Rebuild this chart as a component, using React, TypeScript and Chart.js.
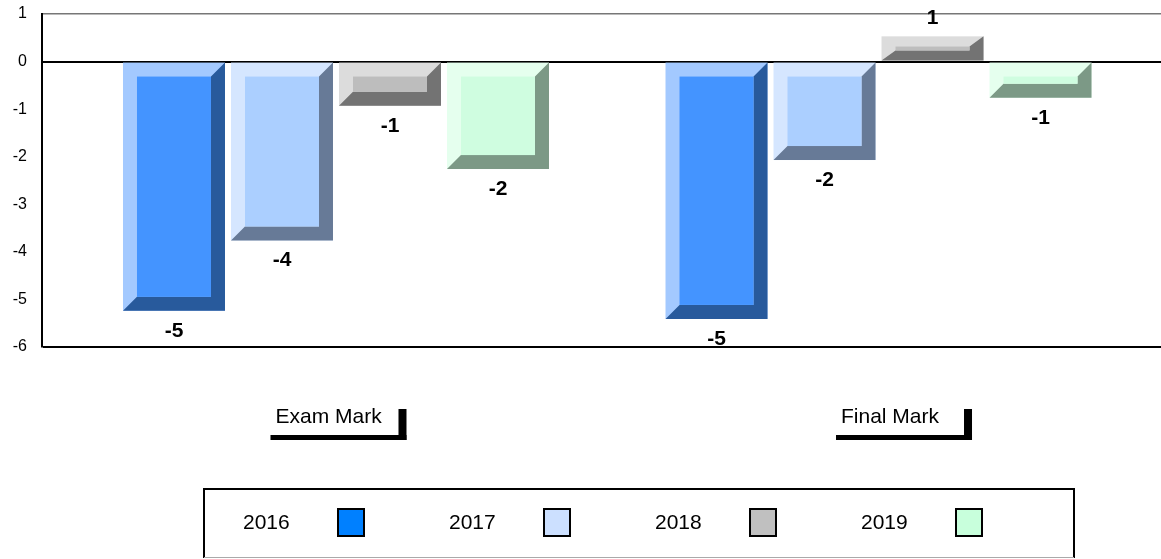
import React, { useEffect, useRef } from 'react';
import { Chart, registerables } from 'chart.js';

Chart.register(...registerables);

// ---- data ----
const categories = ['Exam Mark', 'Final Mark'];
const years = ['2016', '2017', '2018', '2019'];
const values2016 = [-5.24, -5.41];
const values2017 = [-3.76, -2.07];
const values2018 = [-0.93, 0.53];
const values2019 = [-2.26, -0.76];
const yTicks = [1, 0, -1, -2, -3, -4, -5, -6];

// ---- styles ----
const faceColors = ['#4494FF', '#ABCFFF', '#BDBDBD', '#CFFDE0'];
const lightColors = ['#A3C9FF', '#D5E6FF', '#DCDCDC', '#E5FFEE'];
const darkColors = ['#285A9C', '#677A97', '#737373', '#7C9986'];
const legendColors = ['#0080FF', '#CCE0FF', '#C0C0C0', '#C8FFDC'];
const FONT = '"Liberation Sans", Arial, sans-serif';

const series = [values2016, values2017, values2018, values2019];

function poly(ctx: CanvasRenderingContext2D, pts: number[][], color: string) {
  ctx.beginPath();
  ctx.moveTo(pts[0][0], pts[0][1]);
  for (let i = 1; i < pts.length; i++) ctx.lineTo(pts[i][0], pts[i][1]);
  ctx.closePath();
  ctx.fillStyle = color;
  ctx.fill();
}

const bevelPlugin = {
  id: 'bevelBars',
  afterDatasetsDraw(chart: any) {
    const ctx: CanvasRenderingContext2D = chart.ctx;
    ctx.save();
    chart.data.datasets.forEach((ds: any, di: number) => {
      const meta = chart.getDatasetMeta(di);
      meta.data.forEach((el: any, i: number) => {
        const p = el.getProps(['x', 'y', 'base', 'width'], true);
        const half = p.width / 2 - 3;
        const L = p.x - half;
        const R = p.x + half;
        const T = Math.min(p.y, p.base);
        const B = Math.max(p.y, p.base);
        const h = B - T;
        const bh = 14;
        const bv = Math.min(14, h * 0.42);
        // light base (top & left bevels)
        ctx.fillStyle = lightColors[di];
        ctx.fillRect(L, T, R - L, h);
        // dark right & bottom bevels as one shape
        poly(
          ctx,
          [[R, T], [R, B], [L, B], [L + bh, B - bv], [R - bh, B - bv], [R - bh, T + bv]],
          darkColors[di]
        );
        // face
        ctx.fillStyle = faceColors[di];
        ctx.fillRect(L + bh, T + bv, R - L - 2 * bh, Math.max(0, h - 2 * bv));
        const v = ds.data[i].y;
        ctx.fillStyle = '#000';
        ctx.font = 'bold 21px ' + FONT;
        ctx.textAlign = 'center';
        ctx.textBaseline = 'middle';
        ctx.fillText(String(Math.round(v)), p.x, v < 0 ? B + 20 : T - 18);
      });
    });
    ctx.restore();
  },
  afterDraw(chart: any) {
    const ctx: CanvasRenderingContext2D = chart.ctx;
    const xs = chart.scales.x;
    ctx.save();
    const nudges = [2.5, 25.5];
    categories.forEach((cat, ci) => {
      const cx = xs.getPixelForValue(ci) + nudges[ci];
      ctx.fillStyle = '#000';
      ctx.fillRect(cx - 68, 435, 136, 5);
      ctx.fillRect(cx + 60, 409, 8, 31);
      ctx.font = '21px ' + FONT;
      ctx.textAlign = 'left';
      ctx.textBaseline = 'middle';
      ctx.fillText(cat, cx - 63, 417);
    });
    ctx.lineWidth = 2;
    ctx.strokeStyle = '#000';
    ctx.beginPath();
    ctx.moveTo(204, 558);
    ctx.lineTo(204, 489);
    ctx.lineTo(1074, 489);
    ctx.lineTo(1074, 558);
    ctx.stroke();
    ctx.lineWidth = 1;
    ctx.strokeStyle = '#aaa';
    ctx.beginPath();
    ctx.moveTo(204, 557.5);
    ctx.lineTo(1074, 557.5);
    ctx.stroke();
    years.forEach((yr, i) => {
      const tx = 243 + i * 206;
      ctx.fillStyle = '#000';
      ctx.font = '21px ' + FONT;
      ctx.textAlign = 'left';
      ctx.textBaseline = 'middle';
      ctx.fillText(yr, tx, 523);
      const sx = tx + 95;
      ctx.fillStyle = legendColors[i];
      ctx.fillRect(sx, 509, 26, 27);
      ctx.lineWidth = 2;
      ctx.strokeStyle = '#000';
      ctx.strokeRect(sx, 509, 26, 27);
    });
    ctx.restore();
  },
};

export default function App() {
  const ref = useRef<HTMLCanvasElement | null>(null);
  useEffect(() => {
    document.body.style.margin = '0';
    const canvas = ref.current;
    if (!canvas) return;
    const chart = new Chart(canvas, {
      type: 'bar',
      data: {
        datasets: years.map((yr, di) => ({
          label: yr,
          data: categories.map((_, ci) => ({ x: ci, y: series[di][ci] })),
          backgroundColor: 'rgba(0,0,0,0)',
          borderWidth: 0,
          barThickness: 108,
        })),
      },
      options: {
        animation: false,
        responsive: true,
        maintainAspectRatio: false,
        layout: { padding: { top: 14, bottom: 212, left: 0, right: 0 } },
        plugins: {
          legend: { display: false },
          tooltip: { enabled: false },
        },
        scales: {
          x: {
            type: 'linear',
            offset: false,
            grid: { offset: false },
            min: -0.5419,
            max: 1.5207,
            display: false,
          },
          y: {
            type: 'linear',
            min: -6,
            max: 1,
            z: 1,
            afterBuildTicks: (s: any) => {
              s.ticks = yTicks.map((v) => ({ value: v }));
            },
            afterFit: (s: any) => {
              s.width = 42;
              s.paddingTop = 0;
              s.paddingBottom = 0;
            },
            border: { display: true, color: '#000', width: 2 },
            grid: {
              drawTicks: false,
              color: (c: any) =>
                c.tick && c.tick.value === 1
                  ? '#777'
                  : c.tick && (c.tick.value === 0 || c.tick.value === -6)
                  ? '#000'
                  : 'rgba(0,0,0,0)',
              lineWidth: (c: any) => (c.tick && c.tick.value === 1 ? 1.5 : 2),
            },
            ticks: {
              padding: 15,
              color: '#000',
              font: { family: FONT, size: 16 },
            },
          },
        },
      },
      plugins: [bevelPlugin],
    } as any);
    return () => chart.destroy();
  }, []);
  return (
    <div style={{ position: 'relative', width: '1161px', height: '559px' }}>
      <canvas ref={ref} />
    </div>
  );
}
